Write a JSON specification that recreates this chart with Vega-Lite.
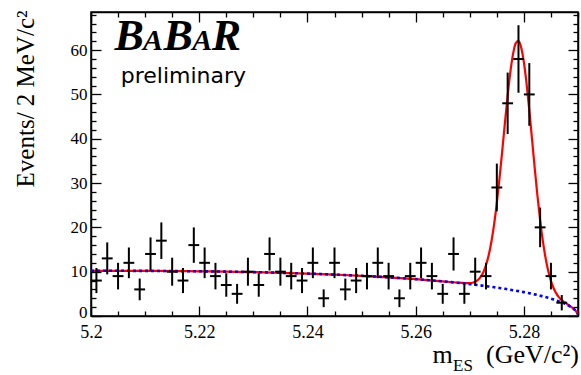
{
  "$schema": "https://vega.github.io/schema/vega-lite/v6.json",
  "width": 487,
  "height": 304,
  "autosize": {"type": "none"},
  "padding": {"left": 91, "top": 12, "right": 3, "bottom": 59},
  "background": "white",
  "config": {
    "view": {"stroke": "#000", "strokeWidth": 1.5},
    "axis": {
      "grid": false,
      "domainColor": "#000",
      "domainWidth": 1.5,
      "tickColor": "#000",
      "tickWidth": 1.3,
      "labelFont": "Liberation Serif",
      "labelFontSize": 17,
      "labelColor": "#000",
      "titleFont": "Liberation Serif",
      "titleFontWeight": "normal",
      "titleColor": "#000"
    }
  },
  "datasets": {
    "one": [{"label": "annotation"}],
    "bins": [
      {"m": 5.201, "x0": 5.200, "x1": 5.202, "n": 8, "lo": 5.17, "hi": 10.83},
      {"m": 5.203, "x0": 5.202, "x1": 5.204, "n": 13, "lo": 9.39, "hi": 16.61},
      {"m": 5.205, "x0": 5.204, "x1": 5.206, "n": 9, "lo": 6, "hi": 12},
      {"m": 5.207, "x0": 5.206, "x1": 5.208, "n": 12, "lo": 8.54, "hi": 15.46},
      {"m": 5.209, "x0": 5.208, "x1": 5.210, "n": 6, "lo": 3.55, "hi": 8.45},
      {"m": 5.211, "x0": 5.210, "x1": 5.212, "n": 14, "lo": 10.26, "hi": 17.74},
      {"m": 5.213, "x0": 5.212, "x1": 5.214, "n": 17, "lo": 12.88, "hi": 21.12},
      {"m": 5.215, "x0": 5.214, "x1": 5.216, "n": 10, "lo": 6.84, "hi": 13.16},
      {"m": 5.217, "x0": 5.216, "x1": 5.218, "n": 8, "lo": 5.17, "hi": 10.83},
      {"m": 5.219, "x0": 5.218, "x1": 5.220, "n": 16, "lo": 12, "hi": 20},
      {"m": 5.221, "x0": 5.220, "x1": 5.222, "n": 12, "lo": 8.54, "hi": 15.46},
      {"m": 5.223, "x0": 5.222, "x1": 5.224, "n": 9, "lo": 6, "hi": 12},
      {"m": 5.225, "x0": 5.224, "x1": 5.226, "n": 7, "lo": 4.35, "hi": 9.65},
      {"m": 5.227, "x0": 5.226, "x1": 5.228, "n": 5, "lo": 2.76, "hi": 7.24},
      {"m": 5.229, "x0": 5.228, "x1": 5.230, "n": 10, "lo": 6.84, "hi": 13.16},
      {"m": 5.231, "x0": 5.230, "x1": 5.232, "n": 7, "lo": 4.35, "hi": 9.65},
      {"m": 5.233, "x0": 5.232, "x1": 5.234, "n": 14, "lo": 10.26, "hi": 17.74},
      {"m": 5.235, "x0": 5.234, "x1": 5.236, "n": 10, "lo": 6.84, "hi": 13.16},
      {"m": 5.237, "x0": 5.236, "x1": 5.238, "n": 9, "lo": 6, "hi": 12},
      {"m": 5.239, "x0": 5.238, "x1": 5.240, "n": 8, "lo": 5.17, "hi": 10.83},
      {"m": 5.241, "x0": 5.240, "x1": 5.242, "n": 12, "lo": 8.54, "hi": 15.46},
      {"m": 5.243, "x0": 5.242, "x1": 5.244, "n": 4, "lo": 2, "hi": 6},
      {"m": 5.245, "x0": 5.244, "x1": 5.246, "n": 12, "lo": 8.54, "hi": 15.46},
      {"m": 5.247, "x0": 5.246, "x1": 5.248, "n": 6, "lo": 3.55, "hi": 8.45},
      {"m": 5.249, "x0": 5.248, "x1": 5.250, "n": 8, "lo": 5.17, "hi": 10.83},
      {"m": 5.251, "x0": 5.250, "x1": 5.252, "n": 9, "lo": 6, "hi": 12},
      {"m": 5.253, "x0": 5.252, "x1": 5.254, "n": 12, "lo": 8.54, "hi": 15.46},
      {"m": 5.255, "x0": 5.254, "x1": 5.256, "n": 9, "lo": 6, "hi": 12},
      {"m": 5.257, "x0": 5.256, "x1": 5.258, "n": 4, "lo": 2, "hi": 6},
      {"m": 5.259, "x0": 5.258, "x1": 5.260, "n": 9, "lo": 6, "hi": 12},
      {"m": 5.261, "x0": 5.260, "x1": 5.262, "n": 12, "lo": 8.54, "hi": 15.46},
      {"m": 5.263, "x0": 5.262, "x1": 5.264, "n": 9, "lo": 6, "hi": 12},
      {"m": 5.265, "x0": 5.264, "x1": 5.266, "n": 5, "lo": 2.76, "hi": 7.24},
      {"m": 5.267, "x0": 5.266, "x1": 5.268, "n": 14, "lo": 10.26, "hi": 17.74},
      {"m": 5.269, "x0": 5.268, "x1": 5.270, "n": 5, "lo": 2.76, "hi": 7.24},
      {"m": 5.271, "x0": 5.270, "x1": 5.272, "n": 10, "lo": 6.84, "hi": 13.16},
      {"m": 5.273, "x0": 5.272, "x1": 5.274, "n": 9, "lo": 6, "hi": 12},
      {"m": 5.275, "x0": 5.274, "x1": 5.276, "n": 29, "lo": 23.61, "hi": 34.39},
      {"m": 5.277, "x0": 5.276, "x1": 5.278, "n": 48, "lo": 41.07, "hi": 54.93},
      {"m": 5.279, "x0": 5.278, "x1": 5.280, "n": 58, "lo": 50.38, "hi": 65.62},
      {"m": 5.281, "x0": 5.280, "x1": 5.282, "n": 50, "lo": 42.93, "hi": 57.07},
      {"m": 5.283, "x0": 5.282, "x1": 5.284, "n": 20, "lo": 15.53, "hi": 24.47},
      {"m": 5.285, "x0": 5.284, "x1": 5.286, "n": 9, "lo": 6, "hi": 12},
      {"m": 5.287, "x0": 5.286, "x1": 5.288, "n": 3, "lo": 1.27, "hi": 4.73}
    ],
    "curve": [
      {"x": 5.200, "bg": 10.20, "tot": 10.20},
      {"x": 5.205, "bg": 10.20, "tot": 10.20},
      {"x": 5.210, "bg": 10.18, "tot": 10.18},
      {"x": 5.215, "bg": 10.14, "tot": 10.14},
      {"x": 5.220, "bg": 10.09, "tot": 10.09},
      {"x": 5.225, "bg": 10.01, "tot": 10.01},
      {"x": 5.230, "bg": 9.90, "tot": 9.90},
      {"x": 5.235, "bg": 9.75, "tot": 9.75},
      {"x": 5.240, "bg": 9.57, "tot": 9.57},
      {"x": 5.245, "bg": 9.34, "tot": 9.34},
      {"x": 5.250, "bg": 9.07, "tot": 9.07},
      {"x": 5.255, "bg": 8.73, "tot": 8.73},
      {"x": 5.260, "bg": 8.32, "tot": 8.32},
      {"x": 5.265, "bg": 7.82, "tot": 7.82},
      {"x": 5.2675, "bg": 7.53, "tot": 7.56},
      {"x": 5.2700, "bg": 7.20, "tot": 7.40},
      {"x": 5.2705, "bg": 7.13, "tot": 7.50},
      {"x": 5.2710, "bg": 7.05, "tot": 7.72},
      {"x": 5.2715, "bg": 6.98, "tot": 8.12},
      {"x": 5.2720, "bg": 6.90, "tot": 8.81},
      {"x": 5.2725, "bg": 6.82, "tot": 9.88},
      {"x": 5.2730, "bg": 6.74, "tot": 11.48},
      {"x": 5.2735, "bg": 6.66, "tot": 13.74},
      {"x": 5.2740, "bg": 6.58, "tot": 16.81},
      {"x": 5.2745, "bg": 6.50, "tot": 20.74},
      {"x": 5.2750, "bg": 6.42, "tot": 25.55},
      {"x": 5.2755, "bg": 6.33, "tot": 31.14},
      {"x": 5.2760, "bg": 6.23, "tot": 37.27},
      {"x": 5.2765, "bg": 6.13, "tot": 43.63},
      {"x": 5.2770, "bg": 6.03, "tot": 49.73},
      {"x": 5.2775, "bg": 5.93, "tot": 55.07},
      {"x": 5.2780, "bg": 5.82, "tot": 59.16},
      {"x": 5.2785, "bg": 5.72, "tot": 61.58},
      {"x": 5.2790, "bg": 5.61, "tot": 62.07},
      {"x": 5.2795, "bg": 5.50, "tot": 60.57},
      {"x": 5.2800, "bg": 5.39, "tot": 57.22},
      {"x": 5.2805, "bg": 5.27, "tot": 52.36},
      {"x": 5.2810, "bg": 5.14, "tot": 46.41},
      {"x": 5.2815, "bg": 5.01, "tot": 39.92},
      {"x": 5.2820, "bg": 4.88, "tot": 33.39},
      {"x": 5.2825, "bg": 4.74, "tot": 27.19},
      {"x": 5.2830, "bg": 4.59, "tot": 21.66},
      {"x": 5.2835, "bg": 4.43, "tot": 16.96},
      {"x": 5.2840, "bg": 4.27, "tot": 13.13},
      {"x": 5.2845, "bg": 4.10, "tot": 10.16},
      {"x": 5.2850, "bg": 3.93, "tot": 7.92},
      {"x": 5.2855, "bg": 3.72, "tot": 6.26},
      {"x": 5.2860, "bg": 3.50, "tot": 5.06},
      {"x": 5.2865, "bg": 3.28, "tot": 4.20},
      {"x": 5.2870, "bg": 3.05, "tot": 3.58},
      {"x": 5.2875, "bg": 2.82, "tot": 3.11},
      {"x": 5.2880, "bg": 2.52, "tot": 2.68},
      {"x": 5.2885, "bg": 2.18, "tot": 2.26},
      {"x": 5.2890, "bg": 1.80, "tot": 1.84},
      {"x": 5.2895, "bg": 1.28, "tot": 1.30},
      {"x": 5.2900, "bg": 0.40, "tot": 0.40}
    ]
  },
  "resolve": {"axis": {"x": "independent", "y": "independent"}},
  "layer": [
    {
      "data": {"name": "curve"},
      "mark": {"type": "line", "color": "#ff0000", "strokeWidth": 2.2, "interpolate": "monotone"},
      "encoding": {
        "x": {
          "field": "x", "type": "quantitative",
          "scale": {"domain": [5.2, 5.29], "nice": false, "zero": false},
          "axis": {
            "orient": "bottom",
            "title": null,
            "values": [5.2, 5.205, 5.21, 5.215, 5.22, 5.225, 5.23, 5.235, 5.24, 5.245, 5.25, 5.255, 5.26, 5.265, 5.27, 5.275, 5.28, 5.285, 5.29],
            "tickSize": {"condition": {"test": "abs(datum.value*50 - round(datum.value*50)) < 0.01", "value": -10}, "value": -5},
            "labelPadding": 17,
            "labelFontSize": 18,
            "labelExpr": "abs(datum.value*50 - round(datum.value*50)) < 0.01 && datum.value < 5.285 ? format(datum.value, '.2~f') : ''",
            "labelFlush": false,
            "labelOverlap": false
          }
        },
        "y": {
          "field": "tot", "type": "quantitative",
          "scale": {"domain": [0, 68.6], "nice": false},
          "axis": {
            "orient": "left",
            "title": "Events/ 2 MeV/c²",
            "titleFontSize": 25,
            "titleAngle": -90,
            "titleX": -58,
            "titleY": -2,
            "titleAlign": "right",
            "titleBaseline": "alphabetic",
            "values": [0, 2, 4, 6, 8, 10, 12, 14, 16, 18, 20, 22, 24, 26, 28, 30, 32, 34, 36, 38, 40, 42, 44, 46, 48, 50, 52, 54, 56, 58, 60, 62, 64, 66, 68],
            "tickSize": {"condition": {"test": "datum.value % 10 === 0", "value": -10}, "value": -5},
            "labelPadding": 14,
            "labelOffset": {"condition": {"test": "datum.value === 0", "value": -4}, "value": 0},
            "labelExpr": "datum.value % 10 === 0 ? format(datum.value, 'd') : ''",
            "labelFlush": false,
            "labelOverlap": false
          }
        }
      }
    },
    {
      "data": {"name": "curve"},
      "mark": {"type": "line", "color": "#0000ff", "strokeWidth": 2.6, "strokeDash": [3, 3], "interpolate": "monotone"},
      "encoding": {
        "x": {
          "field": "x", "type": "quantitative",
          "axis": {
            "orient": "top",
            "title": null,
            "labels": false,
            "values": [5.2, 5.205, 5.21, 5.215, 5.22, 5.225, 5.23, 5.235, 5.24, 5.245, 5.25, 5.255, 5.26, 5.265, 5.27, 5.275, 5.28, 5.285, 5.29],
            "tickSize": {"condition": {"test": "abs(datum.value*50 - round(datum.value*50)) < 0.01", "value": -10}, "value": -5}
          }
        },
        "y": {
          "field": "bg", "type": "quantitative",
          "axis": {
            "orient": "right",
            "title": null,
            "labels": false,
            "values": [0, 2, 4, 6, 8, 10, 12, 14, 16, 18, 20, 22, 24, 26, 28, 30, 32, 34, 36, 38, 40, 42, 44, 46, 48, 50, 52, 54, 56, 58, 60, 62, 64, 66, 68],
            "tickSize": {"condition": {"test": "datum.value % 10 === 0", "value": -10}, "value": -5}
          }
        }
      }
    },
    {
      "data": {"name": "bins"},
      "mark": {"type": "rule", "color": "#000", "strokeWidth": 2},
      "encoding": {
        "x": {"field": "m", "type": "quantitative", "axis": null},
        "y": {"field": "lo", "type": "quantitative", "axis": null},
        "y2": {"field": "hi"}
      }
    },
    {
      "data": {"name": "bins"},
      "mark": {"type": "rule", "color": "#000", "strokeWidth": 2},
      "encoding": {
        "x": {"field": "x0", "type": "quantitative", "axis": null},
        "x2": {"field": "x1"},
        "y": {"field": "n", "type": "quantitative", "axis": null}
      }
    },
    {
      "data": {"name": "one"},
      "mark": {"type": "text", "text": "B", "font": "Liberation Serif", "fontSize": 44, "fontStyle": "italic", "fontWeight": "bold", "align": "left", "baseline": "alphabetic", "color": "#000"},
      "encoding": {"x": {"datum": 5.20435, "type": "quantitative", "axis": null}, "y": {"datum": 60.05, "type": "quantitative", "axis": null}}
    },
    {
      "data": {"name": "one"},
      "mark": {"type": "text", "text": "A", "font": "Liberation Serif", "fontSize": 30, "fontStyle": "italic", "fontWeight": "bold", "align": "left", "baseline": "alphabetic", "color": "#000"},
      "encoding": {"x": {"datum": 5.20960, "type": "quantitative", "axis": null}, "y": {"datum": 60.05, "type": "quantitative", "axis": null}}
    },
    {
      "data": {"name": "one"},
      "mark": {"type": "text", "text": "B", "font": "Liberation Serif", "fontSize": 44, "fontStyle": "italic", "fontWeight": "bold", "align": "left", "baseline": "alphabetic", "color": "#000"},
      "encoding": {"x": {"datum": 5.21340, "type": "quantitative", "axis": null}, "y": {"datum": 60.05, "type": "quantitative", "axis": null}}
    },
    {
      "data": {"name": "one"},
      "mark": {"type": "text", "text": "A", "font": "Liberation Serif", "fontSize": 30, "fontStyle": "italic", "fontWeight": "bold", "align": "left", "baseline": "alphabetic", "color": "#000"},
      "encoding": {"x": {"datum": 5.21870, "type": "quantitative", "axis": null}, "y": {"datum": 60.05, "type": "quantitative", "axis": null}}
    },
    {
      "data": {"name": "one"},
      "mark": {"type": "text", "text": "R", "font": "Liberation Serif", "fontSize": 44, "fontStyle": "italic", "fontWeight": "bold", "align": "left", "baseline": "alphabetic", "color": "#000"},
      "encoding": {"x": {"datum": 5.22230, "type": "quantitative", "axis": null}, "y": {"datum": 60.05, "type": "quantitative", "axis": null}}
    },
    {
      "data": {"name": "one"},
      "mark": {"type": "text", "text": "preliminary", "font": "DejaVu Sans", "fontSize": 22, "align": "left", "baseline": "alphabetic", "color": "#000"},
      "encoding": {"x": {"datum": 5.2055, "type": "quantitative", "axis": null}, "y": {"datum": 52.5, "type": "quantitative", "axis": null}}
    },
    {
      "data": {"name": "one"},
      "mark": {"type": "text", "text": "m", "font": "Liberation Serif", "fontSize": 26, "align": "left", "baseline": "alphabetic", "color": "#000"},
      "encoding": {"x": {"datum": 5.26310, "type": "quantitative", "axis": null}, "y": {"datum": -10.7, "type": "quantitative", "axis": null}}
    },
    {
      "data": {"name": "one"},
      "mark": {"type": "text", "text": "ES", "font": "Liberation Serif", "fontSize": 17, "align": "left", "baseline": "alphabetic", "color": "#000"},
      "encoding": {"x": {"datum": 5.26690, "type": "quantitative", "axis": null}, "y": {"datum": -12.3, "type": "quantitative", "axis": null}}
    },
    {
      "data": {"name": "one"},
      "mark": {"type": "text", "text": "(GeV/c²)", "font": "Liberation Serif", "fontSize": 26, "align": "right", "baseline": "alphabetic", "color": "#000", "dx": 1},
      "encoding": {"x": {"datum": 5.29, "type": "quantitative", "axis": null}, "y": {"datum": -10.7, "type": "quantitative", "axis": null}}
    }
  ]
}
